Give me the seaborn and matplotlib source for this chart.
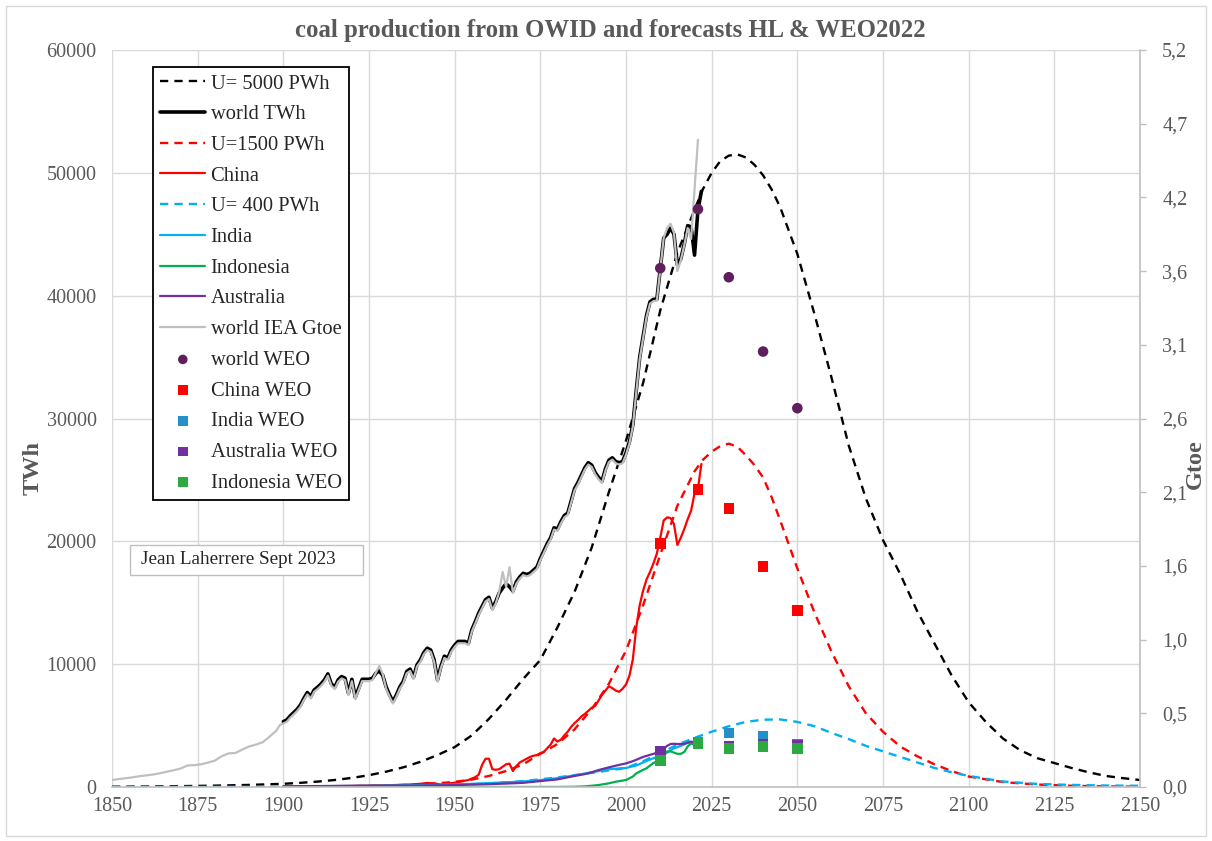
import numpy as np
import matplotlib
matplotlib.use("Agg")
import matplotlib.pyplot as plt
from matplotlib.patches import Rectangle
import seaborn as sns

# ---------------- data ----------------
# world coal production (OWID), TWh
world_years = list(range(1900, 2023))
world_twh = [
    5320, 5460, 5780, 6050, 6320, 6680, 7220, 7690, 7360, 7900,
    8120, 8390, 8720, 9210, 8400, 8120, 8720, 8990, 8860, 7630,
    8770, 7300, 8040, 8770, 8770, 8770, 8850, 9260, 9450, 9100,
    8150, 7500, 6950, 7500, 8150, 8600, 9400, 9600, 8940, 9940,
    10350, 10950, 11300, 11150, 10350, 8720, 9850, 10650, 10500, 11150,
    11550, 11850, 11850, 11850, 11700, 12800, 13450, 14150, 14700, 15250,
    15450, 14550, 15100, 15800, 16200, 16550, 16300, 15950, 16700, 17100,
    17400, 17300, 17400, 17650, 17900, 18600, 19200, 19800, 20300, 21100,
    21000, 21600, 22100, 22300, 23300, 24300, 24800, 25400, 26000, 26400,
    26200, 25600, 25200, 24900, 25900, 26600, 26800, 26500, 26400, 26500,
    27200, 28100, 29500, 32300, 35000, 36700, 38400, 39500, 39700, 39700,
    42200, 44700, 45000, 45500, 45000, 42500, 43000, 44200, 45700, 45600,
    43300, 47000, 48500,
]

# world coal production (IEA), Gtoe
iea_years = ([1850 + 2 * i for i in range(25)] + [1899] + list(range(1900, 2020)) + [2021])
iea_gtoe = [
    0.049, 0.056, 0.062, 0.068, 0.076, 0.082, 0.088, 0.097, 0.108, 0.118,
    0.130, 0.152, 0.154, 0.160, 0.172, 0.186, 0.217, 0.237, 0.240, 0.264,
    0.286, 0.299, 0.316, 0.355, 0.399, 0.438,
    0.448, 0.460, 0.488, 0.511, 0.535, 0.566, 0.613, 0.653, 0.625, 0.672,
    0.691, 0.714, 0.743, 0.785, 0.715, 0.691, 0.743, 0.766, 0.755, 0.648,
    0.747, 0.620, 0.684, 0.747, 0.747, 0.747, 0.754, 0.806, 0.854, 0.797,
    0.693, 0.637, 0.589, 0.637, 0.693, 0.732, 0.802, 0.819, 0.762, 0.849,
    0.884, 0.936, 0.966, 0.953, 0.884, 0.743, 0.841, 0.910, 0.897, 0.953,
    0.988, 1.014, 1.014, 1.014, 1.001, 1.096, 1.153, 1.213, 1.261, 1.309,
    1.326, 1.248, 1.296, 1.378, 1.517, 1.413, 1.551, 1.369, 1.434, 1.469,
    1.495, 1.486, 1.495, 1.517, 1.538, 1.599, 1.651, 1.703, 1.746, 1.816,
    1.807, 1.859, 1.902, 1.920, 2.006, 2.093, 2.136, 2.188, 2.240, 2.275,
    2.258, 2.206, 2.171, 2.145, 2.232, 2.292, 2.310, 2.284, 2.275, 2.284,
    2.344, 2.422, 2.544, 2.786, 3.020, 3.168, 3.315, 3.410, 3.428, 3.432,
    3.649, 3.874, 3.944, 3.974, 3.909, 3.640, 3.718, 3.822, 3.944, 3.866,
    4.567,
]

# Hubbert forecast, world, U = 5000 PWh
u5000_years = [1850, 1860, 1870, 1880, 1890, 1900, 1905, 1910, 1915, 1920,
               1925, 1930, 1935, 1940, 1945, 1950, 1955, 1960, 1965, 1970,
               1975, 1980, 1985, 1990, 1995, 2000, 2005, 2010, 2015, 2020,
               2022.5, 2025, 2027.5, 2030, 2032.5, 2035, 2037.5, 2040, 2042.5, 2045,
               2050, 2055, 2060, 2065, 2070,
               2075, 2080, 2085, 2090, 2095, 2100, 2105, 2110, 2115, 2120,
               2125, 2130, 2135, 2140, 2145, 2150]
u5000_twh = [20, 40, 70, 110, 170, 260, 340, 440, 570, 740,
             960, 1250, 1600, 2050, 2600, 3250, 4200, 5550, 7100, 8800,
             10340, 13000, 15900, 19500, 24000, 28200, 32900, 38800, 43500, 47000,
             48700, 50000, 50950, 51400, 51500, 51250, 50650, 49800, 48650, 47200,
             43400, 38500, 33300, 27800, 23500,
             20100, 17350, 14300, 11700, 9100, 6900, 5300, 3950, 3000, 2350,
             1950, 1550, 1200, 900, 720, 570]

# China coal production, TWh
china_years = [1900, 1910, 1920, 1930, 1935, 1938, 1940, 1942, 1944, 1946, 1948,
               1950, 1952, 1954, 1956, 1957, 1958, 1959, 1960, 1961, 1962, 1963,
               1964, 1965, 1966, 1967, 1968, 1969, 1970, 1971, 1972, 1973, 1974,
               1975, 1976, 1977, 1978, 1979, 1980, 1981, 1982, 1983, 1984, 1985,
               1986, 1987, 1988, 1989, 1990, 1991, 1992, 1993, 1994, 1995, 1996,
               1997, 1998, 1999, 2000, 2001, 2002, 2003, 2004, 2005, 2006, 2007,
               2008, 2009, 2010, 2011, 2012, 2013, 2014, 2015, 2016, 2017, 2018,
               2019, 2020, 2021, 2022]
china_twh = [30, 60, 90, 140, 180, 220, 260, 330, 290, 200, 280,
             350, 450, 570, 800, 1000, 1800, 2300, 2300, 1450, 1400, 1450,
             1650, 1850, 1900, 1300, 1700, 2000, 2150, 2300, 2450, 2550, 2600,
             2750, 2850, 3150, 3450, 3950, 3700, 3850, 4200, 4500, 4900, 5200,
             5450, 5750, 5950, 6200, 6450, 6600, 7050, 7500, 7850, 8200, 8050,
             7850, 7750, 8000, 8350, 9050, 10400, 13000, 14800, 16000, 16900, 17500,
             18200, 19000, 20300, 21700, 21950, 21900, 21400, 19700, 20300, 21000, 21800,
             22500, 23900, 24300, 26300]

# Hubbert forecast, China, U = 1500 PWh
u1500_years = [1900, 1910, 1920, 1930, 1940, 1945, 1950, 1955, 1960, 1965,
               1970, 1975, 1980, 1985, 1990, 1995, 2000, 2005, 2010, 2015,
               2020, 2022.5, 2025, 2027.5, 2030, 2032.5, 2035, 2037.5, 2040, 2042.5,
               2045, 2050, 2055, 2060, 2065,
               2070, 2075, 2080, 2085, 2090, 2095, 2100, 2110, 2120, 2130,
               2140, 2150]
u1500_twh = [20, 40, 70, 120, 220, 300, 420, 600, 900, 1300,
             1850, 2700, 3500, 4700, 6350, 8400, 11100, 14800, 18900, 22900,
             25700, 26650, 27300, 27750, 27950, 27700, 27000, 26200, 25200, 23600,
             21700, 17800, 14200, 11000, 8200,
             6000, 4500, 3300, 2500, 1850, 1300, 850, 400, 200, 100,
             50, 20]

# Hubbert forecast, U = 400 PWh
u400_years = [1850, 1875, 1900, 1925, 1950, 1960, 1970, 1980, 1990, 1995,
              2000, 2005, 2010, 2015, 2020, 2025, 2030, 2035, 2040, 2045,
              2050, 2055, 2060, 2065, 2070, 2075, 2080, 2085, 2090, 2095,
              2100, 2110, 2120, 2130, 2140, 2150]
u400_twh = [5, 10, 25, 60, 170, 290, 480, 780, 1150, 1350,
            1550, 2100, 2750, 3450, 4000, 4500, 4950, 5300, 5480, 5500,
            5300, 4950, 4400, 3900, 3350, 2900, 2450, 2000, 1550, 1200,
            900, 450, 250, 170, 120, 100]

# India, Australia, Indonesia coal production, TWh
india_years = [1900, 1920, 1940, 1950, 1960, 1970, 1975, 1980, 1985, 1990, 1995,
               2000, 2003, 2005, 2008, 2010, 2012, 2014, 2016, 2018, 2019, 2020, 2021]
india_twh = [50, 90, 150, 200, 320, 450, 560, 720, 950, 1200, 1450,
             1550, 1750, 2000, 2350, 2500, 2800, 3150, 3350, 3600, 3650, 3550, 3950]

australia_years = [1900, 1920, 1940, 1950, 1960, 1965, 1970, 1975, 1980, 1985, 1988,
                   1990, 1992, 1995, 1998, 2000, 2002, 2005, 2008, 2010, 2011, 2012,
                   2013, 2014, 2015, 2016, 2017, 2018, 2019, 2020, 2021]
australia_twh = [60, 90, 120, 160, 230, 280, 340, 480, 620, 900, 1050,
                 1200, 1380, 1600, 1800, 1920, 2100, 2450, 2700, 2880, 3100, 3350,
                 3500, 3520, 3500, 3500, 3520, 3600, 3700, 3600, 3550]

indonesia_years = [1900, 1980, 1985, 1988, 1990, 1992, 1995, 1997, 2000, 2002, 2003,
                   2005, 2006, 2007, 2008, 2009, 2010, 2011, 2012, 2013, 2014, 2015,
                   2016, 2017, 2018, 2019, 2020, 2021]
indonesia_twh = [0, 5, 20, 50, 100, 160, 300, 430, 570, 850, 1110,
                 1400, 1520, 1750, 1950, 2100, 2200, 2650, 2900, 2900, 2800, 2700,
                 2700, 2850, 3300, 3550, 3400, 3600]

# WEO 2022 outlook points, TWh
weo_years = [2010, 2021, 2030, 2040, 2050]
world_weo = [42240, 47040, 41500, 35450, 30840]
china_weo = [19840, 24240, 22690, 17940, 14360]
india_weo = [2780, 3650, 4400, 4120, 3500]
australia_weo = [2880, 3550, 3320, 3480, 3400]
indonesia_weo = [2150, 3550, 3150, 3300, 3150]

x_ticks = list(range(1850, 2151, 25))
y_ticks = list(range(0, 60001, 10000))
gtoe_ticks = [0.0, 0.52, 1.04, 1.56, 2.08, 2.6, 3.12, 3.64, 4.16, 4.68, 5.2]

# ---------------- style ----------------
sns.set_theme(style="white")
plt.rcParams["font.family"] = ["Liberation Serif", "DejaVu Serif"]

GRID = "#D9D9D9"
AXIS = "#BFBFBF"
TXT = "#595959"
DASH = (0, (3.5, 2.6))
TICK_FS = 14.5

W, H = 1212, 841
fig = plt.figure(figsize=(W / 100, H / 100), dpi=100)
fig.patch.set_facecolor("white")
fig.patches.append(Rectangle((6 / W, 5 / H), 1200 / W, 830 / H, transform=fig.transFigure,
                             fill=False, edgecolor=GRID, linewidth=1))

L, R, T, B = 112, 1140, 50, 787
ax = fig.add_axes([L / W, 1 - B / H, (R - L) / W, (B - T) / H])
ax2 = ax.twinx()
ax3 = ax.twinx()


def draw_line(axis, xs, ys, color, lw, label, dashed=False):
    sns.lineplot(x=xs, y=ys, ax=axis, color=color, linewidth=lw, label=label,
                 legend=False, errorbar=None,
                 linestyle=DASH if dashed else "-")


# primary axis (TWh)
draw_line(ax, u5000_years, u5000_twh, "black", 1.7, "U= 5000 PWh", dashed=True)
draw_line(ax, world_years, world_twh, "black", 2.6, "world TWh")
draw_line(ax, u1500_years, u1500_twh, "#FF0000", 1.7, "U=1500 PWh", dashed=True)
draw_line(ax, china_years, china_twh, "#FF0000", 1.6, "China")
draw_line(ax, u400_years, u400_twh, "#00B0F0", 1.7, "U= 400 PWh", dashed=True)
draw_line(ax, india_years, india_twh, "#00B0F0", 1.6, "India")
draw_line(ax, indonesia_years, indonesia_twh, "#00B050", 1.6, "Indonesia")
draw_line(ax, australia_years, australia_twh, "#7030A0", 1.6, "Australia")

# secondary axis (Gtoe)
draw_line(ax2, iea_years, iea_gtoe, "#BFBFBF", 1.6, "world IEA Gtoe")

# WEO points on top
for ys, col, mk, lab in [
    (world_weo, "#5E1F5C", "o", "world WEO"),
    (china_weo, "#FF0000", "s", "China WEO"),
    (india_weo, "#2590C8", "s", "India WEO"),
    (australia_weo, "#7030A0", "s", "Australia WEO"),
    (indonesia_weo, "#2EA840", "s", "Indonesia WEO"),
]:
    sns.scatterplot(x=weo_years, y=ys, ax=ax3, color=col, marker=mk, s=58,
                    edgecolor="none", linewidth=0, label=lab, legend=False, zorder=5)

# axes limits, ticks, grid
ax.set_xlim(1850, 2150)
ax.set_ylim(0, 60000)
ax3.set_ylim(0, 60000)
ax2.set_ylim(0, 5.2)
ax.set_xticks(x_ticks)
ax.set_yticks(y_ticks)
ax.grid(True, color=GRID, linewidth=1)
ax.set_axisbelow(True)
ax.set_xlabel("")
ax.set_ylabel("")
ax.tick_params(axis="x", length=0, pad=7, labelsize=TICK_FS, labelcolor=TXT)
ax.tick_params(axis="y", length=0, pad=11, labelsize=TICK_FS, labelcolor=TXT)
for s in ["top", "left", "right"]:
    ax.spines[s].set_visible(False)
ax.spines["bottom"].set_color(AXIS)
ax.spines["bottom"].set_linewidth(1.2)

ax2.set_yticks(gtoe_ticks)
ax2.set_yticklabels([f"{v:.1f}".replace(".", ",") for v in gtoe_ticks])
ax2.tick_params(axis="y", right=True, length=4, width=1, color=AXIS, pad=12,
                labelsize=TICK_FS, labelcolor=TXT, direction="out")
ax2.grid(False)
ax2.set_ylabel("")
for s in ["top", "left", "bottom"]:
    ax2.spines[s].set_visible(False)
ax2.spines["right"].set_color(AXIS)
ax2.spines["right"].set_linewidth(1.2)
ax3.axis("off")

# titles and axis names
fig.text(610 / W, 1 - 31 / H, "coal production from OWID and forecasts HL & WEO2022",
         ha="center", va="center", fontsize=17.8, fontweight="bold", color=TXT)
fig.text(33 / W, 1 - 468 / H, "TWh", rotation=90, ha="center", va="center",
         fontsize=17.5, fontweight="bold", color=TXT)
fig.text(1195 / W, 1 - 464 / H, "Gtoe", rotation=90, ha="center", va="center",
         fontsize=17.5, fontweight="bold", color=TXT)

# author box
fig.patches.append(Rectangle((130 / W, 1 - 575 / H), 233 / W, 30 / H, transform=fig.transFigure,
                             fill=True, facecolor="white", edgecolor=AXIS, linewidth=1, zorder=10))
fig.text(141 / W, 1 - 560 / H, "Jean Laherrere Sept 2023", ha="left", va="center",
         fontsize=13.8, color="#262626", zorder=11)

# legend
order = ["U= 5000 PWh", "world TWh", "U=1500 PWh", "China", "U= 400 PWh", "India",
         "Indonesia", "Australia", "world IEA Gtoe", "world WEO", "China WEO",
         "India WEO", "Australia WEO", "Indonesia WEO"]
hmap = {}
for a in (ax, ax2, ax3):
    hs, ls = a.get_legend_handles_labels()
    hmap.update(dict(zip(ls, hs)))
leg = ax3.legend([hmap[k] for k in order], order, loc="upper left",
                 bbox_to_anchor=(153 / W, 1 - 67 / H), bbox_transform=fig.transFigure,
                 borderaxespad=0, frameon=True, fancybox=False, edgecolor="black",
                 framealpha=1, fontsize=14.8, handlelength=2.2, handletextpad=0.25,
                 labelspacing=0.55, borderpad=0.35, markerscale=0.9)
leg.get_frame().set_linewidth(1.3)
leg.set_zorder(20)

fig.savefig("out.png", dpi=100, facecolor="white")
